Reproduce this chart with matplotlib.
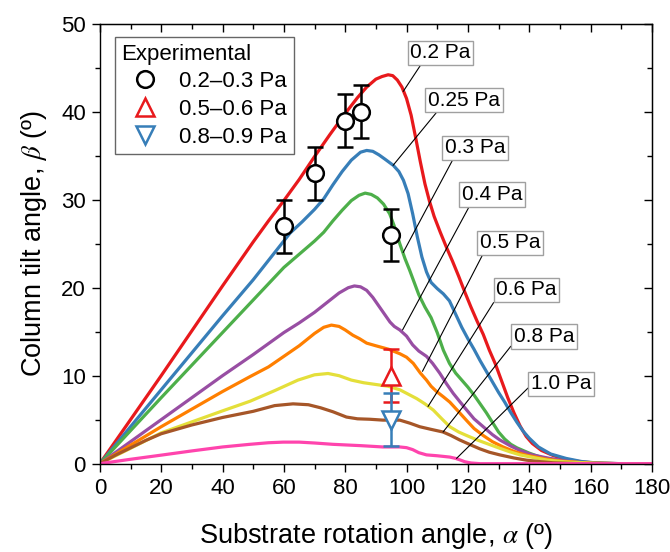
import matplotlib
matplotlib.use("Agg")
import matplotlib.pyplot as plt
from matplotlib.lines import Line2D

plt.rcParams['font.family'] = ['Liberation Sans', 'DejaVu Sans']
plt.rcParams['mathtext.fontset'] = 'stix'

# simulated curves: substrate rotation angle alpha vs column tilt angle beta
red_a = [0, 10, 20, 30, 40, 50, 55, 60, 65, 70, 75, 80, 84, 87, 90, 92, 94, 95.5, 97, 98.5, 100, 101.5, 103, 104.5,
         106, 107.5, 109, 111, 113, 115, 117, 119, 121, 123, 125, 127, 129, 131, 133, 135, 137, 139, 141, 144, 148,
         152, 157, 162, 170, 180]
red_b = [0, 5, 10, 15.1, 20.2, 25.2, 27.6, 29.9, 32.3, 34.9, 37.4, 39.8, 41.6, 42.8, 43.7, 44.0, 44.2, 44.1, 43.6,
         42.8, 41.5, 39.6, 37.0, 34.3, 31.8, 29.8, 28.1, 26.3, 24.6, 23.0, 21.3, 19.5, 17.8, 16.2, 14.7, 12.9, 11.3,
         9.4, 7.5, 5.8, 4.3, 3.1, 2.3, 1.5, 0.9, 0.5, 0.2, 0.07, 0, 0]

blue_a = [0, 20, 40, 50, 62, 66, 70, 73, 76, 79, 82, 85, 87, 89, 91, 93, 95.7, 97.5, 99, 100.5, 102, 103.5, 105,
          106.5, 108, 110, 112, 114, 116, 118, 120, 122, 124, 126, 128, 130, 132, 134, 136, 138, 140, 143, 147, 152,
          157, 162, 170, 180]
blue_b = [0, 8.4, 16.8, 20.9, 26.2, 27.5, 28.9, 30.1, 31.7, 33.2, 34.5, 35.4, 35.6, 35.5, 35.1, 34.6, 33.9, 33.2,
          32.2, 30.7, 28.4, 25.8, 23.5, 21.8, 20.6, 19.9, 19.3, 18.5, 17.0, 15.5, 14.2, 13.0, 11.7, 10.5, 9.3, 8.1,
          7.0, 5.8, 4.7, 3.7, 2.9, 1.9, 1.1, 0.6, 0.25, 0.08, 0, 0]

green_a = [0, 20, 40, 50, 60, 65, 70, 73, 76, 79, 82, 84.5, 86.5, 88.5, 90.5, 92.5, 94.5, 96, 97.8, 99.5, 101, 102.5,
           104, 106, 108, 110, 112, 114, 116, 118, 120, 122, 124, 126, 128, 130, 132, 134, 136, 140, 144, 152, 160,
           170, 180]
green_b = [0, 7.5, 14.9, 18.6, 22.3, 23.8, 25.3, 26.3, 27.6, 28.8, 29.9, 30.5, 30.75, 30.6, 30.2, 29.5, 28.4, 27.0,
           25.0, 23.3, 22.0, 20.6, 19.2, 17.8, 16.6, 14.9, 12.9, 11.4, 10.3, 9.5, 8.7, 7.8, 6.8, 5.8, 4.7, 3.6, 2.8,
           2.2, 1.8, 1.2, 0.7, 0.2, 0.05, 0, 0]

purple_a = [0, 20, 40, 50, 60, 65, 70, 74, 78, 81, 83, 85, 87, 89, 91, 93, 94.6, 96, 97.8, 100, 102, 104, 106.5,
            108.5, 110.8, 113, 115.2, 117.5, 119.6, 122, 125, 128, 130.4, 134, 137, 141, 146.7, 152, 157.6, 165, 180]
purple_b = [0, 5.0, 10.0, 12.4, 14.9, 16.0, 17.2, 18.3, 19.4, 20.0, 20.2, 20.1, 19.7, 18.9, 17.9, 16.9, 16.1, 15.6,
            15.2, 14.5, 13.5, 12.8, 12.2, 11.4, 10.3, 9.1, 8.0, 7.0, 6.1, 5.1, 4.2, 3.3, 2.7, 2.0, 1.5, 1.0, 0.6, 0.3,
            0.1, 0, 0]

orange_a = [0, 20, 40, 49, 55, 60, 65, 70, 73, 75.5, 78, 80, 82.5, 84.7, 87, 90, 94.2, 97.8, 100, 102.2, 104.5,
            106.5, 108, 109.8, 112, 114.1, 117, 119.6, 122, 125, 128, 131.5, 135, 139.1, 145, 150, 160, 170, 180]
orange_b = [0, 4.2, 8.2, 9.9, 11.0, 12.2, 13.4, 14.8, 15.5, 15.75, 15.6, 15.2, 14.6, 14.2, 13.7, 13.4, 13.0, 12.5,
            12.1, 11.4, 10.3, 9.5, 8.8, 8.2, 7.6, 7.0, 5.9, 4.9, 4.0, 3.2, 2.5, 1.9, 1.4, 0.96, 0.55, 0.3, 0.05, 0, 0]

yellow_a = [0, 20, 40, 49, 57, 64.6, 70, 74.4, 78, 82, 86, 90, 94, 97.8, 101.1, 103.3, 106, 108.7, 111.5, 114.1,
            117, 119.6, 123, 126.1, 130, 133.7, 137, 141.3, 146, 152, 162, 170, 180]
yellow_b = [0, 3.5, 6.0, 7.1, 8.3, 9.5, 10.1, 10.25, 10.0, 9.5, 9.2, 9.0, 8.8, 8.4, 7.8, 7.4, 6.8, 6.1, 5.1, 4.2,
            3.6, 3.2, 2.7, 2.3, 1.8, 1.35, 1.0, 0.7, 0.4, 0.2, 0.03, 0, 0]

brown_a = [0, 5, 10, 15, 20, 30, 40, 50, 57, 63, 68, 72, 76, 80.4, 84, 88, 92.3, 97.8, 101.1, 104.3, 108, 111.9,
           114.5, 117.3, 120.5, 123.8, 127, 130.4, 135, 139.1, 143, 147.8, 155, 160, 180]
brown_b = [0, 0.95, 1.8, 2.65, 3.4, 4.4, 5.25, 5.95, 6.6, 6.8, 6.7, 6.35, 5.9, 5.3, 5.1, 5.05, 4.95, 4.95, 4.6, 4.2,
           3.9, 3.6, 3.2, 2.7, 2.2, 1.7, 1.3, 1.0, 0.65, 0.4, 0.25, 0.1, 0.02, 0, 0]

pink_a = [0, 10, 20, 30, 40, 48.9, 55, 59.8, 65, 70, 76, 85, 92.3, 97.8, 100, 102, 104, 106.5, 110, 114.1, 116,
          117.5, 119, 121, 124, 180]
pink_b = [0, 0.5, 0.97, 1.45, 1.9, 2.2, 2.38, 2.45, 2.45, 2.35, 2.2, 2.05, 1.9, 1.9, 1.82, 1.6, 1.25, 1.0, 0.9,
          0.75, 0.6, 0.42, 0.22, 0.08, 0, 0]

curves = [
    (red_a, red_b, '#e8191c', '0.2 Pa'),
    (blue_a, blue_b, '#377eb8', '0.25 Pa'),
    (green_a, green_b, '#4daf4a', '0.3 Pa'),
    (purple_a, purple_b, '#984ea3', '0.4 Pa'),
    (orange_a, orange_b, '#ff7f00', '0.5 Pa'),
    (yellow_a, yellow_b, '#e4df3a', '0.6 Pa'),
    (brown_a, brown_b, '#a65628', '0.8 Pa'),
    (pink_a, pink_b, '#ff44ad', '1.0 Pa'),
]

# label box centres and the curve point each leader line goes to
label_pos = [(111.1, 46.7), (118.7, 41.3), (122.4, 35.9), (128.0, 30.6),
             (133.7, 25.1), (139.1, 19.75), (144.9, 14.45), (150.5, 9.06)]
label_tip = [(98.9, 42.3), (95.6, 33.9), (98.9, 24.0), (98.7, 15.2),
             (105.2, 10.5), (107.0, 6.5), (111.9, 3.6), (116.3, 0.6)]
label_rel = [(0.2, 0), (0.15, 0), (0.15, 0), (0.14, 0),
             (0.07, 0), (0, 0.05), (0, 0.2), (0, 0.45)]

# experimental points
exp1_a = [60, 70, 80, 85, 95]
exp1_b = [27, 33, 39, 40, 26]
exp1_err = [3, 3, 3, 3, 3]
exp2_a = [95]
exp2_b = [10]
exp2_err = [3]
exp3_a = [95]
exp3_b = [5]
exp3_err = [3]

fig = plt.figure(figsize=(6.7, 5.52), dpi=100)
ax = fig.add_axes([0.149, 0.160, 0.824, 0.797])

for a, b, c, name in curves:
    ax.plot(a, b, color=c, lw=2.3, zorder=2, solid_joinstyle='round')

for (a, b, c, name), pos, tip, rel in zip(curves, label_pos, label_tip, label_rel):
    ax.annotate(name, xy=tip, xytext=pos, ha='center', va='center', fontsize=15,
                bbox=dict(boxstyle='square,pad=0.13', fc='white', ec='#a0a0a0', lw=1.0),
                arrowprops=dict(arrowstyle='-', color='k', lw=0.8, relpos=rel,
                                shrinkA=0, shrinkB=0), zorder=5)

ax.errorbar(exp2_a, exp2_b, yerr=exp2_err, fmt='^', ms=13, mfc='white', mec='#e8191c',
            mew=1.8, ecolor='#e8191c', elinewidth=1.8, capsize=6, capthick=1.8, zorder=4)
ax.errorbar(exp3_a, exp3_b, yerr=exp3_err, fmt='v', ms=13, mfc='white', mec='#377eb8',
            mew=1.8, ecolor='#377eb8', elinewidth=1.8, capsize=6, capthick=1.8, zorder=4)
ax.errorbar(exp1_a, exp1_b, yerr=exp1_err, fmt='o', ms=12, mfc='white', mec='k',
            mew=1.8, ecolor='k', elinewidth=1.8, capsize=6, capthick=1.8, zorder=4)

ax.set_xlim(0, 180)
ax.set_ylim(0, 50)
ax.set_xticks(range(0, 181, 20))
ax.set_xticks(range(10, 180, 20), minor=True)
ax.set_yticks(range(0, 51, 10))
ax.set_yticks(range(5, 50, 10), minor=True)
ax.tick_params(which='major', direction='out', length=6, width=1.0, labelsize=16, pad=4)
ax.tick_params(which='minor', direction='out', length=3.5, width=1.0)
for s in ax.spines.values():
    s.set_linewidth(1.0)

top = ax.secondary_xaxis('top')
top.set_xticks(range(0, 181, 20))
top.set_xticks(range(10, 180, 20), minor=True)
top.tick_params(which='both', direction='in', labeltop=False, width=1.0)
top.tick_params(which='major', length=6)
top.tick_params(which='minor', length=3.5)
right = ax.secondary_yaxis('right')
right.set_yticks(range(0, 51, 10))
right.set_yticks(range(5, 50, 10), minor=True)
right.tick_params(which='both', direction='in', labelright=False, width=1.0)
right.tick_params(which='major', length=6)
right.tick_params(which='minor', length=3.5)

ax.set_xlabel(r'Substrate rotation angle, $\alpha$ (º)', fontsize=19.5, labelpad=16)
ax.set_ylabel(r'Column tilt angle, $\beta$ (º)', fontsize=19.5, labelpad=9)

handles = [
    Line2D([], [], ls='none', marker='o', ms=12, mfc='white', mec='k', mew=1.8),
    Line2D([], [], ls='none', marker='^', ms=13, mfc='white', mec='#e8191c', mew=1.8),
    Line2D([], [], ls='none', marker='v', ms=13, mfc='white', mec='#377eb8', mew=1.8),
]
leg = ax.legend(handles, ['0.2–0.3 Pa', '0.5–0.6 Pa', '0.8–0.9 Pa'], title='Experimental',
                loc='upper left', bbox_to_anchor=(0.027, 0.97), borderaxespad=0,
                fontsize=16, title_fontsize=16, alignment='left', fancybox=False,
                edgecolor='#666666', framealpha=1, handlelength=2.1, handletextpad=0.5,
                borderpad=0.3, labelspacing=0.3)
leg.get_frame().set_linewidth(1.0)

fig.savefig('out.png', dpi=100)
